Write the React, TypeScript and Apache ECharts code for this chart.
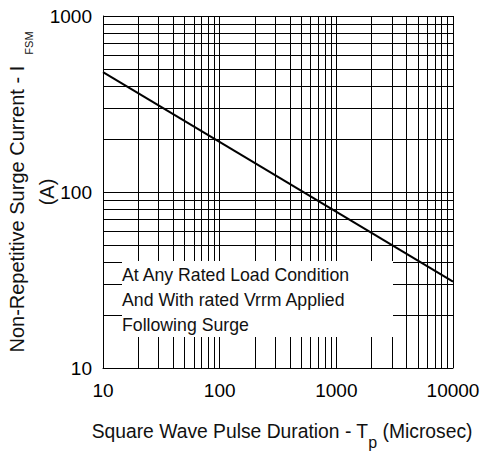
import React, { useEffect, useRef } from "react";
import * as echarts from "echarts";

const FONT = '"Liberation Sans", Arial, sans-serif';

// Curve: non-repetitive surge current vs pulse duration
const pulseDuration = [10, 10000];
const surgeCurrent = [480, 31];

// Grid lines (log decades with minors)
const xGridValues = [
  20, 30, 40, 50, 60, 70, 80, 90, 100,
  200, 300, 400, 500, 600, 700, 800, 900, 1000,
  2000, 3000, 4000, 5000, 6000, 7000, 8000, 9000, 10000,
];
const yGridValues = [
  20, 30, 40, 50, 60, 70, 80, 90, 100,
  200, 300, 400, 500, 600, 700, 800, 900, 1000,
];

const noteLines = [
  "At Any Rated Load Condition",
  "And With rated Vrrm Applied",
  "Following Surge",
];

export default function App() {
  const ref = useRef<HTMLDivElement>(null);
  useEffect(() => {
    document.body.style.margin = "0";
    if (!ref.current) return;
    const chart = echarts.init(ref.current, null, { renderer: "svg" });
    const gridLines = [
      ...xGridValues.map((v) => ({ xAxis: v })),
      ...yGridValues.map((v) => ({ yAxis: v })),
    ];
    chart.setOption({
      animation: false,
      backgroundColor: "#fff",
      grid: {
        left: 103,
        right: 28,
        top: 16,
        bottom: 84,
        containLabel: false,
        outerBoundsMode: "none",
      },
      xAxis: {
        type: "log",
        logBase: 10,
        min: 10,
        max: 10000,
        axisLine: { show: true, lineStyle: { color: "#000", width: 1 } },
        axisTick: { show: false },
        splitLine: { show: false },
        axisLabel: {
          color: "#000",
          fontSize: 19,
          fontFamily: FONT,
          margin: 13,
          formatter: (v: number) => String(v),
        },
        name: "{a|Square Wave Pulse Duration - T}{s|p}{a| (Microsec)}",
        nameLocation: "middle",
        nameGap: 51,
        nameMoveOverlap: false,
        nameTextStyle: {
          color: "#111",
          fontFamily: FONT,
          padding: [0, 0, 0, 8],
          rich: {
            a: { fontSize: 19.3, fontFamily: FONT, color: "#111", lineHeight: 24, verticalAlign: "middle" },
            s: {
              fontSize: 16,
              fontFamily: FONT,
              color: "#111",
              lineHeight: 8,
              verticalAlign: "middle",
              padding: [22, 0, 0, 0],
            },
          },
        },
      },
      yAxis: {
        type: "log",
        logBase: 10,
        min: 10,
        max: 1000,
        axisLine: { show: true, lineStyle: { color: "#000", width: 1 } },
        axisTick: { show: false },
        splitLine: { show: false },
        axisLabel: {
          color: "#000",
          fontSize: 19,
          fontFamily: FONT,
          margin: 11,
          formatter: (v: number) => String(v),
        },
        name: "{a|Non-Repetitive Surge Current - I  }{s|FSM}\n{a|(A)}",
        nameLocation: "middle",
        nameRotate: 90,
        nameGap: 41,
        nameMoveOverlap: false,
        nameTextStyle: {
          color: "#111",
          fontFamily: FONT,
          align: "center",
          rich: {
            a: {
              fontSize: 20,
              fontFamily: FONT,
              color: "#111",
              lineHeight: 30,
              align: "center",
              verticalAlign: "middle",
            },
            s: {
              fontSize: 11,
              fontFamily: FONT,
              color: "#111",
              lineHeight: 8,
              verticalAlign: "middle",
              padding: [24, 0, 0, 0],
            },
          },
        },
      },
      series: [
        {
          type: "line",
          data: [],
          z: 1,
          silent: true,
          markLine: {
            silent: true,
            symbol: ["none", "none"],
            label: { show: false },
            lineStyle: { color: "#000", width: 1, type: "solid" },
            emphasis: { disabled: true },
            data: gridLines,
          },
        },
        {
          type: "line",
          z: 5,
          data: pulseDuration.map((x, i) => [x, surgeCurrent[i]]),
          showSymbol: false,
          symbol: "none",
          lineStyle: { color: "#000", width: 2 },
          silent: true,
        },
      ],
      graphic: [
        {
          type: "rect",
          z: 50,
          shape: { x: 122, y: 261, width: 271, height: 76 },
          style: { fill: "#fff" },
        },
        ...noteLines.map((t, i) => ({
          type: "text",
          z: 51,
          x: 122,
          y: 275 + i * 25,
          style: {
            text: t,
            fill: "#111",
            font: `17.7px ${FONT}`,
            verticalAlign: "middle",
          },
        })),
      ],
    });
    return () => chart.dispose();
  }, []);
  return <div ref={ref} style={{ width: 481, height: 452 }} />;
}
